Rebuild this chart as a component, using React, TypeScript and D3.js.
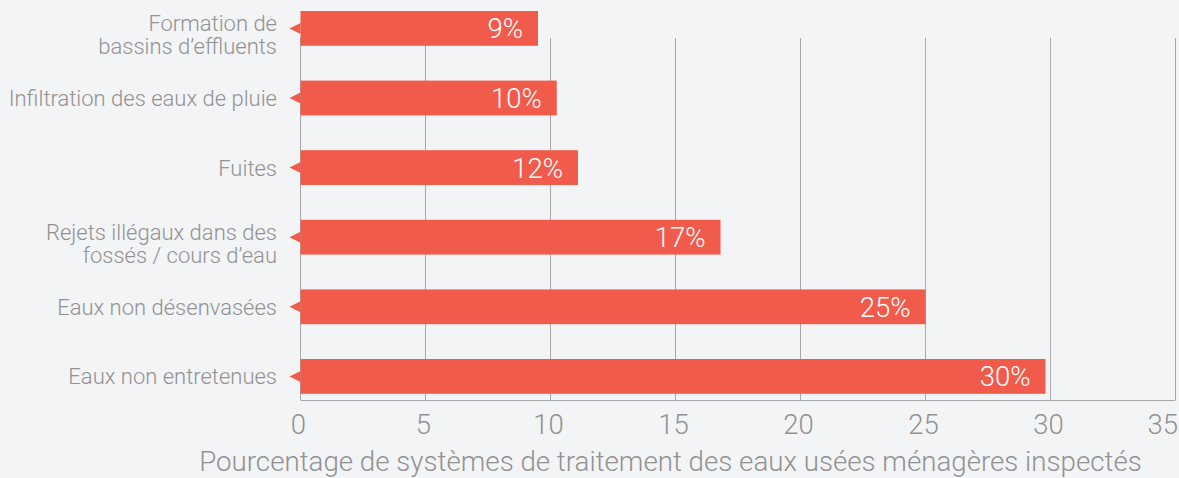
import React from "react";
import * as d3 from "d3";

const categories: string[][] = [
  ["Formation de", "bassins d\u2019effluents"],
  ["Infiltration des eaux de pluie"],
  ["Fuites"],
  ["Rejets ill\u00e9gaux dans des", "foss\u00e9s / cours d\u2019eau"],
  ["Eaux non d\u00e9senvas\u00e9es"],
  ["Eaux non entretenues"],
];
const values: number[] = [9.5, 10.25, 11.1, 16.8, 25, 29.8];
const valueLabels: string[] = ["9%", "10%", "12%", "17%", "25%", "30%"];
const xTicks: number[] = [0, 5, 10, 15, 20, 25, 30, 35];
const axisTitle = "Pourcentage de syst\u00e8mes de traitement des eaux us\u00e9es m\u00e9nag\u00e8res inspect\u00e9s";

const W = 1179;
const H = 478;
const BG = "#f3f4f6";
const BAR = "#f15b4c";
const TEXT = "#929292";
const GRID = "#a8a8a8";
const FONT = "'Roboto Light', Roboto, 'Noto Sans', sans-serif";

export default function App() {
  const x = d3.scaleLinear().domain([0, 35]).range([300.5, 1175.5]);
  const y = d3
    .scaleBand<number>()
    .domain(d3.range(categories.length))
    .range([-6.4, 411.2])
    .paddingInner(0.5)
    .paddingOuter(0.25);
  const plotTop = 38;
  const plotBottom = 400;
  const bw = y.bandwidth();

  return (
    <div style={{ position: "fixed", left: 0, top: 0, width: W, height: H, background: BG }}>
      <svg width={W} height={H} style={{ display: "block", fontFamily: FONT, fontWeight: 300 }}>
        <rect x={0} y={0} width={W} height={H} fill={BG} />
        {xTicks.map((t) => (
          <line
            key={"g" + t}
            x1={x(t)}
            x2={x(t)}
            y1={plotTop}
            y2={plotBottom}
            stroke={GRID}
            strokeWidth={1}
          />
        ))}
        <line x1={x(0)} x2={x(35)} y1={plotBottom + 0.5} y2={plotBottom + 0.5} stroke={GRID} strokeWidth={1.2} />
        {xTicks.map((t, i) => {
          const last = i === xTicks.length - 1;
          return (
            <text
              key={"t" + t}
              x={last ? W - 1 : x(t) - 2}
              y={434}
              textAnchor={last ? "end" : "middle"}
              fontSize={27.5}
              fill={TEXT}
            >
              {t}
            </text>
          );
        })}
        <text x={670.5} y={471} textAnchor="middle" fontSize={27.7} fill={TEXT}>
          {axisTitle}
        </text>
        {values.map((v, i) => {
          const y0 = y(i)!;
          const cy = y0 + bw / 2;
          const x0 = x(0);
          const tri = `${x0},${cy - 5.5} ${x0 - 11},${cy} ${x0},${cy + 5.5}`;
          return (
            <g key={"b" + i}>
              <rect x={x0} y={y0} width={x(v) - x0} height={bw} fill={BAR} />
              <polygon points={tri} fill={BAR} />
              <text x={x(v) - 15} y={cy + 10} textAnchor="end" fontSize={27.5} fill="#ffffff">
                {valueLabels[i]}
              </text>
            </g>
          );
        })}
        {categories.map((lines, i) => {
          const cy = y(i)! + bw / 2;
          if (lines.length === 1) {
            return (
              <text key={"c" + i} x={277} y={cy + 8} textAnchor="end" fontSize={22} fill={TEXT}>
                {lines[0]}
              </text>
            );
          }
          return (
            <text key={"c" + i} x={277} y={cy + 3} textAnchor="end" fontSize={22} fill={TEXT}>
              {lines.map((l, j) => (
                <tspan key={j} x={277} dy={j === 0 ? 0 : 23}>
                  {l}
                </tspan>
              ))}
            </text>
          );
        })}
      </svg>
    </div>
  );
}
